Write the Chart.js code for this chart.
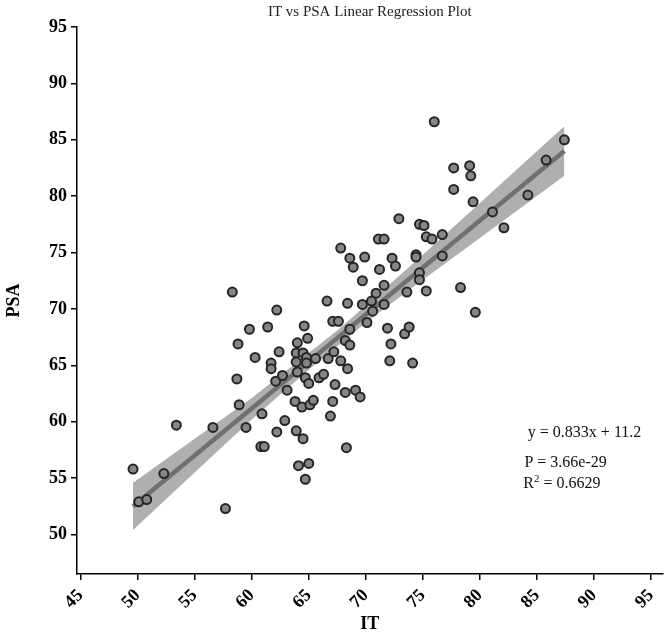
<!DOCTYPE html>
<html>
<head>
<meta charset="utf-8">
<script src="https://cdn.jsdelivr.net/npm/chart.js@4.4.1/dist/chart.umd.min.js"></script>
<style>
  html, body { margin: 0; padding: 0; background: #fff; }
  #wrap { width: 669px; height: 632px; }
</style>
</head>
<body>
<div id="wrap"><canvas id="chart"></canvas></div>
<script>
// IT / PSA point pairs
const itValues = [
  49.6, 50.1, 50.8, 52.3, 53.4, 56.6, 57.7, 58.3, 58.7, 58.8,
  58.9, 59.5, 59.8, 60.3, 60.8, 61.1, 60.9, 61.4, 61.7, 61.7,
  62.1, 62.2, 62.2, 62.4, 62.7, 62.9, 63.1, 63.8, 63.9, 63.9,
  63.9, 64.0, 64.0, 64.1, 64.4, 64.5, 64.5, 64.6, 64.7, 64.7,
  64.8, 64.8, 64.9, 65.0, 65.0, 65.1, 65.4, 65.6, 65.9, 66.3,
  66.6, 66.7, 66.9, 67.1, 67.1, 67.2, 67.3, 67.6, 67.8, 67.8,
  68.2, 68.2, 68.3, 68.4, 68.4, 68.6, 68.6, 68.6, 68.9, 69.1,
  69.5, 69.7, 69.7, 69.9, 70.1, 70.5, 70.6, 70.9, 71.1, 71.2,
  71.6, 71.6, 71.6, 71.9, 72.1, 72.2, 72.3, 72.6, 72.9, 73.4,
  73.6, 73.8, 74.1, 74.4, 74.4, 74.7, 74.7, 74.7, 75.1, 75.3,
  75.3, 75.8, 76.0, 76.7, 76.7, 77.7, 77.7, 78.3, 79.1, 79.2,
  79.4, 79.6, 81.1, 82.1, 84.2, 85.8, 87.4
];
const psaValues = [
  55.8, 52.9, 53.1, 55.4, 59.7, 59.5, 52.3, 71.5, 63.8, 66.9,
  61.5, 59.5, 68.2, 65.7, 57.8, 57.8, 60.7, 68.4, 65.2, 64.7,
  63.6, 69.9, 59.1, 66.2, 64.1, 60.1, 62.8, 61.8, 66.1, 65.3,
  59.2, 67.0, 64.4, 56.1, 61.3, 66.1, 58.5, 68.5, 63.9, 54.9,
  65.7, 65.2, 67.4, 63.4, 56.3, 61.5, 61.9, 65.6, 63.9, 64.2,
  70.7, 65.6, 60.5, 61.8, 68.9, 66.2, 63.3, 68.9, 65.4, 75.4,
  62.6, 67.2, 57.7, 64.7, 70.5, 68.2, 66.8, 74.5, 73.7, 62.8,
  62.2, 70.4, 72.5, 74.6, 68.8, 70.7, 69.8, 71.4, 76.2, 73.5,
  76.2, 70.4, 72.1, 68.3, 65.4, 66.9, 74.5, 73.8, 78.0, 67.8,
  71.5, 68.4, 65.2, 74.8, 74.6, 73.2, 72.6, 77.5, 77.4, 71.6,
  76.4, 76.2, 86.6, 76.6, 74.7, 80.6, 82.5, 71.9, 82.7, 81.8,
  79.5, 69.7, 78.6, 77.2, 80.1, 83.2, 85.0
];

// fitted line and its confidence band
const fitX = [49.6, 87.4];
const fitY = [52.5, 84.0];
const bandX = [49.6, 55, 60, 65, 67.5, 70, 75, 80, 87.4];
const bandLow = [50.4, 55.5, 60.2, 64.6, 66.7, 68.8, 72.6, 76.3, 81.8];
const bandHigh = [54.6, 58.5, 62.1, 66.1, 68.1, 70.3, 74.8, 79.4, 86.2];

const xTicks = [45, 50, 55, 60, 65, 70, 75, 80, 85, 90, 95];
const yTicks = [50, 55, 60, 65, 70, 75, 80, 85, 90, 95];

const titleText = 'IT vs PSA Linear Regression Plot';
const eqText = 'y = 0.833x + 11.2';
const pText = 'P = 3.66e-29';
const r2Value = '0.6629';

const serif = '"Liberation Serif", "Times New Roman", serif';

function toPoints(xs, ys) {
  return xs.map((v, i) => ({ x: v, y: ys[i] }));
}

// title centred over the plot area + stats text in the lower right corner
const textPlugin = {
  id: 'texts',
  afterDatasetsDraw(chart) {
    const { ctx, chartArea, scales: { x, y } } = chart;
    ctx.save();
    ctx.fillStyle = '#222';
    ctx.textBaseline = 'middle';
    ctx.textAlign = 'center';
    ctx.font = '15px ' + serif;
    ctx.fillText(titleText, (chartArea.left + chartArea.right) / 2, 12);

    ctx.fillStyle = '#111';
    ctx.textAlign = 'left';
    ctx.font = '16px ' + serif;
    ctx.fillText(eqText, x.getPixelForValue(84.2), y.getPixelForValue(59.0));
    ctx.fillText(pText, x.getPixelForValue(83.9), y.getPixelForValue(56.4));

    let px = x.getPixelForValue(83.8);
    const py = y.getPixelForValue(54.5);
    ctx.fillText('R', px, py);
    px += ctx.measureText('R').width;
    ctx.font = '11px ' + serif;
    ctx.fillText('2', px, py - 5);
    px += ctx.measureText('2').width;
    ctx.font = '16px ' + serif;
    ctx.fillText(' = ' + r2Value, px, py);
    ctx.restore();
  }
};

const axisGrid = {
  display: true,
  drawOnChartArea: false,
  drawTicks: true,
  tickLength: 6,
  color: '#000',
  lineWidth: 1.5
};

new Chart(document.getElementById('chart'), {
  type: 'scatter',
  data: {
    datasets: [
      {
        label: 'points',
        data: toPoints(itValues, psaValues),
        pointRadius: 4.5,
        backgroundColor: '#868686',
        borderColor: '#252525',
        borderWidth: 2
      },
      {
        type: 'line',
        label: 'fit',
        data: toPoints(fitX, fitY),
        borderColor: '#707070',
        borderWidth: 4.5,
        pointRadius: 0,
        fill: false
      },
      {
        type: 'line',
        label: 'band low',
        data: toPoints(bandX, bandLow),
        borderWidth: 0,
        borderColor: 'rgba(0,0,0,0)',
        pointRadius: 0,
        fill: false
      },
      {
        type: 'line',
        label: 'band high',
        data: toPoints(bandX, bandHigh),
        borderWidth: 0,
        borderColor: 'rgba(0,0,0,0)',
        backgroundColor: '#afafaf',
        pointRadius: 0,
        fill: '-1'
      }
    ]
  },
  options: {
    responsive: true,
    maintainAspectRatio: false,
    animation: false,
    layout: { padding: { left: 0, right: 0, top: 27, bottom: 0 } },
    plugins: {
      legend: { display: false },
      tooltip: { enabled: false },
      title: { display: false }
    },
    scales: {
      x: {
        type: 'linear',
        min: 44.69,
        max: 96,
        afterBuildTicks: s => { s.ticks = xTicks.map(v => ({ value: v })); },
        afterFit: s => { s.height = 58; s.paddingRight = 4; },
        grid: axisGrid,
        border: { display: true, color: '#000', width: 1.5 },
        ticks: {
          color: '#000',
          font: { family: serif, size: 18, weight: 'bold' },
          minRotation: 45,
          maxRotation: 45,
          padding: 5
        },
        title: {
          display: true,
          text: 'IT',
          color: '#000',
          font: { family: serif, size: 18, weight: 'bold', lineHeight: 0.8 },
          padding: { top: 0, bottom: 0 }
        }
      },
      y: {
        type: 'linear',
        min: 46.5,
        max: 95,
        afterBuildTicks: s => { s.ticks = yTicks.map(v => ({ value: v })); },
        afterFit: s => { s.width = 77; },
        grid: axisGrid,
        border: { display: true, color: '#000', width: 1.5 },
        ticks: {
          color: '#000',
          font: { family: serif, size: 18, weight: 'bold' },
          padding: 4
        },
        title: {
          display: true,
          text: 'PSA',
          color: '#000',
          font: { family: serif, size: 18, weight: 'bold' },
          padding: { top: 4, bottom: 0 }
        }
      }
    }
  },
  plugins: [textPlugin]
});
</script>
</body>
</html>
